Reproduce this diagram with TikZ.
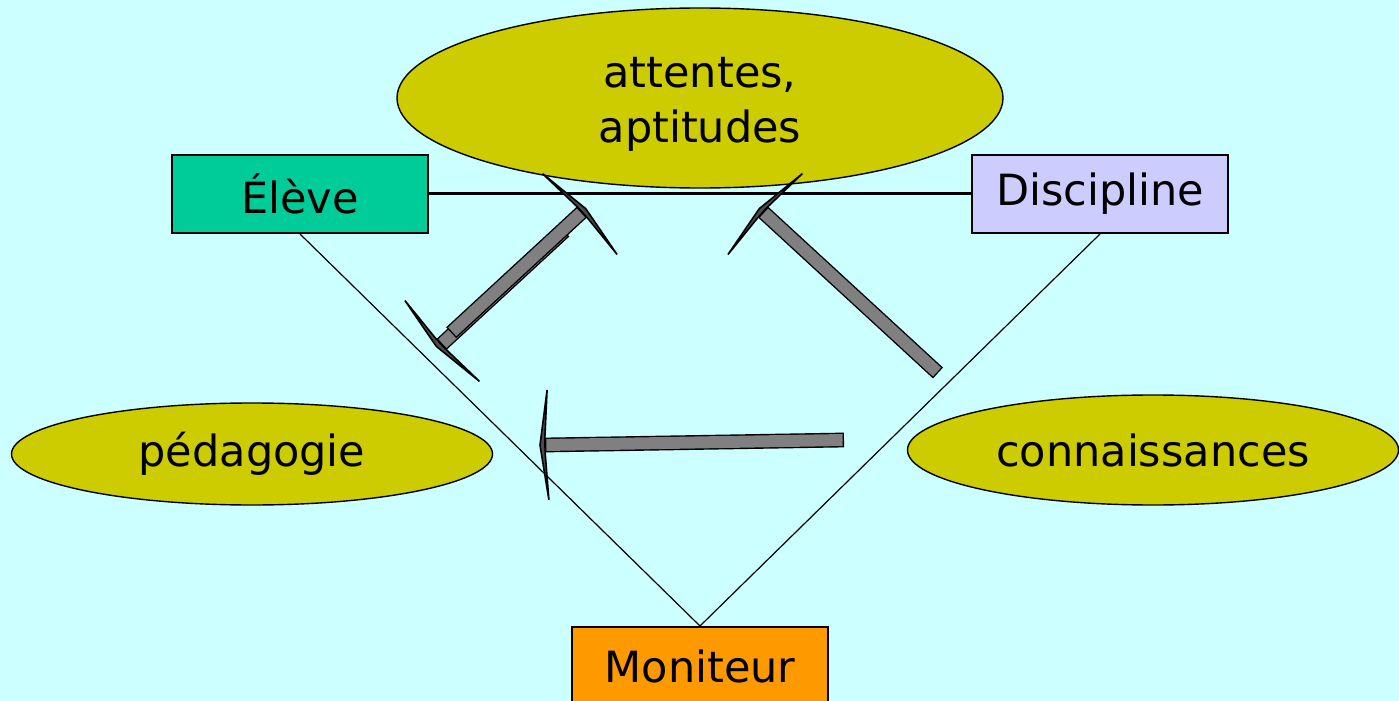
\documentclass[tikz,border=0pt]{standalone}
\usepackage{fontspec}
\setmainfont{DejaVu Sans}
\usetikzlibrary{shapes.geometric}
\definecolor{bg}{HTML}{CCFFFF}
\definecolor{elevefill}{HTML}{00CC99}
\definecolor{discfill}{HTML}{CCCCFF}
\definecolor{monfill}{HTML}{FF9900}
\definecolor{ovalfill}{HTML}{CCCC00}
\definecolor{barfill}{HTML}{808080}
\tikzset{
  box/.style={draw, line width=1pt, minimum width=128pt, minimum height=39pt, inner sep=0pt},
  oval/.style={ellipse, draw, line width=0.7pt, fill=ovalfill, inner sep=0pt},
  link/.style={line width=0.6pt},
  mainlink/.style={line width=1.5pt},
  barout/.style={line width=7.4pt, black},
  barin/.style={line width=6pt, barfill, shorten <=0.7pt, shorten >=0.7pt},
  thead/.pic={\filldraw[fill=black!70, draw=black, line width=0.8pt, line join=miter] (0,-7.4) -- (3,-55) -- (-5,0) -- (3,55) -- (0,7.4) -- cycle;}
}
\begin{document}
\begin{tikzpicture}[x=0.5pt,y=-0.5pt, font=\fontsize{21.5}{27.5}\selectfont]
\fill[bg] (0,0) rectangle (1399,701);
\useasboundingbox (0,0) rectangle (1399,701);

\node[oval, minimum width=303pt, minimum height=90pt] (att) at (700,98) {};
\node[align=center, inner sep=0pt] (atttext) at (700,104) {attentes,\\aptitudes};
\node[oval, minimum width=240.5pt, minimum height=51pt] (ped) at (252,454) {pédagogie};
\node[oval, minimum width=245.5pt, minimum height=55pt] (con) at (1153,450) {connaissances};

\node[box, fill=elevefill] (eleve) at (300,194) {Élève};
\node[box, fill=discfill] (disc) at (1100,194) {Discipline};
\node[box, fill=monfill] (mon) at (700,666) {Moniteur};

\draw[mainlink] (eleve.east) -- (disc.west);
\draw[link] (eleve.south) -- (mon.north);
\draw[link] (disc.south) -- (mon.north);

% double arrow (upper left)
\coordinate (a1) at (582,212);
\coordinate (a2) at (440,343);
\coordinate (a1e) at (451.2,332.7);
\coordinate (b1) at (441.4,344.5);
\coordinate (b2) at (564.3,231.1);
\draw[barout] (b1) -- (b2);
\draw[barin] (b1) -- (b2);
\draw[barout] (a1) -- (a1e);
\draw[barin] (a1) -- (a1e);
\path (a1) -- (a2) pic[pos=0, sloped, allow upside down]{thead};
\path (a2) -- (a1) pic[pos=0, sloped, allow upside down]{thead};

% arrow from right
\coordinate (c1) at (763,212);
\coordinate (c2) at (938,373);
\draw[barout] (c1) -- (c2);
\draw[barin] (c1) -- (c2);
\path (c1) -- (c2) pic[pos=0, sloped, allow upside down]{thead};

% horizontal arrow
\coordinate (d1) at (545,445);
\coordinate (d2) at (844,440);
\draw[barout] (d1) -- (d2);
\draw[barin] (d1) -- (d2);
\path (d1) -- (d2) pic[pos=0, sloped, allow upside down]{thead};
\end{tikzpicture}
\end{document}
